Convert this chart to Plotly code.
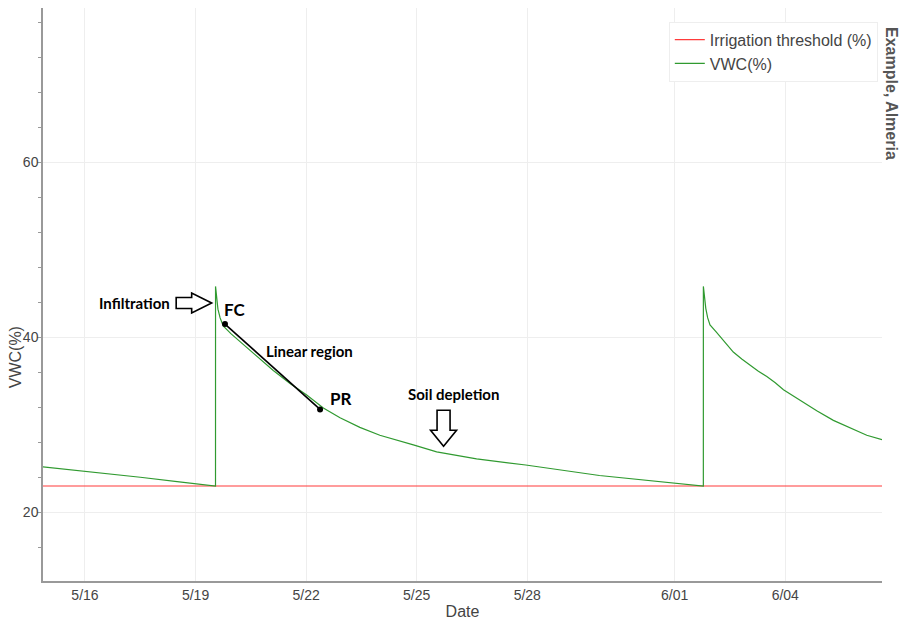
import plotly.graph_objects as go

# Soil moisture (VWC) record and irrigation threshold
vwc_time = [
    "2022-05-14 20:00", "2022-05-16 00:00", "2022-05-17 12:00", "2022-05-18 12:00",
    "2022-05-19 13:00", "2022-05-19 13:01", "2022-05-19 13:40", "2022-05-19 14:35",
    "2022-05-19 16:00", "2022-05-19 18:00", "2022-05-19 23:00", "2022-05-20 04:57",
    "2022-05-20 15:49", "2022-05-21 02:38", "2022-05-21 13:31", "2022-05-22 00:23",
    "2022-05-22 11:13", "2022-05-22 22:05", "2022-05-23 11:00", "2022-05-24 00:00",
    "2022-05-24 21:50", "2022-05-25 13:00", "2022-05-26 15:00", "2022-05-27 23:00",
    "2022-05-29 23:00", "2022-05-31 08:00", "2022-06-01 18:40", "2022-06-01 18:41",
    "2022-06-01 19:20", "2022-06-01 20:15", "2022-06-01 21:30", "2022-06-01 23:00",
    "2022-06-02 03:00", "2022-06-02 08:30", "2022-06-02 14:10", "2022-06-02 19:40",
    "2022-06-03 01:05", "2022-06-03 06:30", "2022-06-03 12:00", "2022-06-03 17:30",
    "2022-06-03 22:50", "2022-06-04 04:15", "2022-06-04 09:40", "2022-06-04 15:00",
    "2022-06-04 20:30", "2022-06-05 07:20", "2022-06-05 18:15", "2022-06-06 05:05",
    "2022-06-06 15:00",
]
vwc_value = [
    25.2, 24.7, 24.0, 23.5,
    23.0, 45.8, 44.5, 43.2,
    42.2, 41.3, 40.4, 39.5,
    37.8, 36.2, 34.7, 33.4,
    31.9, 30.8, 29.7, 28.8,
    27.7, 26.9, 26.1, 25.4,
    24.2, 23.6, 23.0, 45.8,
    44.5, 43.3, 42.2, 41.4,
    40.6, 39.4, 38.3, 37.5,
    36.8, 36.1, 35.5, 34.8,
    34.0, 33.4, 32.8, 32.2,
    31.6, 30.5, 29.6, 28.8,
    28.3,
]

threshold_time = ["2022-05-14 20:00", "2022-06-06 16:00"]
threshold_value = [23.0, 23.0]

# Field capacity (FC) and point of refill (PR) bounding the linear drying region
linear_time = ["2022-05-19 19:10", "2022-05-22 09:05"]
linear_value = [41.5, 31.75]

x_range = ["2022-05-14 20:40", "2022-06-06 15:00"]
y_range = [12.15, 77.6]
tick_dates = ["2022-05-16", "2022-05-19", "2022-05-22", "2022-05-25",
              "2022-05-28", "2022-06-01", "2022-06-04"]
tick_labels = ["5/16", "5/19", "5/22", "5/25", "5/28", "6/01", "6/04"]

# Text labels: (text, time, value, size, anchor)
labels = [
    ("Infiltration", "2022-05-18 08:40", 43.9, 15, "right"),
    ("FC", "2022-05-20 01:40", 43.2, 17, "center"),
    ("Linear region", "2022-05-22 02:30", 38.4, 15, "center"),
    ("PR", "2022-05-22 23:00", 33.05, 17, "center"),
    ("Soil depletion", "2022-05-26 00:15", 33.5, 15, "center"),
]

# Hollow block arrows anchored at their tips (time, value); outline in pixels
arrow_right_tip = ("2022-05-19 10:30", 43.9)
arrow_down_tip = ("2022-05-25 17:30", 27.55)
arrow_right_path = "M0,0 L-20,10 L-20,5.5 L-35.5,5.5 L-35.5,-5.5 L-20,-5.5 L-20,-10 Z"
arrow_down_path = "M0,0 L13,16 L6.5,16 L6.5,36 L-6.5,36 L-6.5,16 L-13,16 Z"

AXIS_FONT = "Arial, 'Liberation Sans', sans-serif"
NOTE_FONT = "Lato, 'Open Sans', sans-serif"

fig = go.Figure()
fig.add_trace(go.Scatter(
    x=threshold_time, y=threshold_value, mode="lines",
    name="Irrigation threshold (%)", line=dict(color="#ff3b3b", width=1.2),
))
fig.add_trace(go.Scatter(
    x=vwc_time, y=vwc_value, mode="lines",
    name="VWC(%)", line=dict(color="#309a30", width=1.2),
))
fig.add_trace(go.Scatter(
    x=linear_time, y=linear_value, mode="lines+markers",
    line=dict(color="black", width=1.6),
    marker=dict(color="black", size=6),
    showlegend=False, hoverinfo="skip",
))

for text, t, v, size, anchor in labels:
    fig.add_annotation(
        x=t, y=v, xref="x", yref="y", text=f"<b>{text}</b>", showarrow=False,
        xanchor=anchor, yanchor="middle",
        font=dict(family=NOTE_FONT, size=size, color="black"),
    )

for (t, v), path in ((arrow_right_tip, arrow_right_path), (arrow_down_tip, arrow_down_path)):
    fig.add_shape(
        type="path", xref="x", yref="y", xsizemode="pixel", ysizemode="pixel",
        xanchor=t, yanchor=v, path=path,
        line=dict(color="black", width=1.6), fillcolor="white", layer="above",
    )

# Site name along the right edge
fig.add_annotation(
    x=1.0107, y=0.85, xref="paper", yref="paper", text="<b>Example, Almeria</b>",
    textangle=90, showarrow=False, xanchor="center", yanchor="middle",
    font=dict(family=AXIS_FONT, size=16, color="#555555"),
)
# Y-axis title
fig.add_annotation(
    x=-0.0325, y=0.39, xref="paper", yref="paper", text="VWC(%)",
    textangle=-90, showarrow=False, xanchor="center", yanchor="middle",
    font=dict(family=AXIS_FONT, size=16, color="#444444"),
)

fig.update_layout(
    width=903, height=621,
    margin=dict(l=43, r=21, t=8, b=40, autoexpand=False),
    plot_bgcolor="white", paper_bgcolor="white",
    font=dict(family=AXIS_FONT, color="#444444"),
    legend=dict(
        x=0.995, y=0.976, xanchor="right", yanchor="top",
        bgcolor="white", bordercolor="#eeeeee", borderwidth=1,
        font=dict(size=16, color="#444444"), tracegroupgap=0,
    ),
    xaxis=dict(
        type="date", range=x_range, automargin=False,
        tickvals=tick_dates, ticktext=tick_labels,
        tickfont=dict(size=14), showgrid=True, gridcolor="#eeeeee",
        showline=True, linecolor="#999999", linewidth=1.5,
        ticks="", zeroline=False,
        title=dict(text="Date", font=dict(size=16), standoff=4),
    ),
    yaxis=dict(
        range=y_range, tick0=0, dtick=20, automargin=False,
        tickfont=dict(size=14), showgrid=True, gridcolor="#eeeeee",
        showline=True, linecolor="#999999", linewidth=1.5,
        ticks="outside", ticklen=4, tickcolor="#999999", zeroline=False,
        ticklabelstandoff=-4,
        minor=dict(dtick=4, tick0=0, ticks="outside", ticklen=3,
                   tickcolor="#999999", showgrid=False),
    ),
)

fig.write_html("out.html")
